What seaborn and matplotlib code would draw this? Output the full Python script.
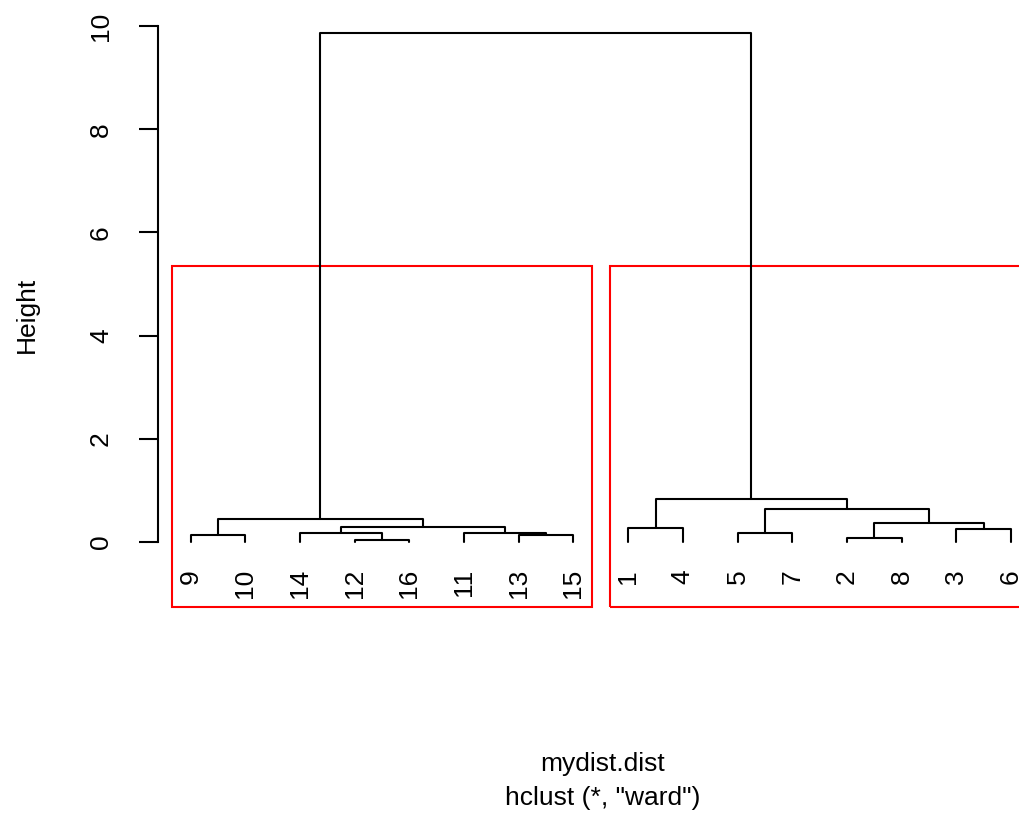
import numpy as np
import pandas as pd
import matplotlib
matplotlib.use("Agg")
import matplotlib.pyplot as plt
from matplotlib.patches import Rectangle
import seaborn as sns

# ---- data (R hclust style) ----
leaf_order = [9, 10, 14, 12, 16, 11, 13, 15, 1, 4, 5, 7, 2, 8, 3, 6]
merge_left = [-12, -2, -9, -13, -14, -11, -5, -3, -1, 5, 2, 3, 7, 9, 12]
merge_right = [-16, -8, -10, -15, 1, 4, -7, -6, -4, 6, 8, 10, 11, 13, 14]
merge_height = [0.043, 0.074, 0.127, 0.13, 0.16, 0.165, 0.17, 0.238, 0.27,
                0.277, 0.355, 0.44, 0.63, 0.83, 9.864]
y_ticks = [0, 2, 4, 6, 8, 10]
k_clusters = 2
xlab = "mydist.dist"
sub = 'hclust (*, "ward")'
ylab = "Height"

sns.set_style("white")
plt.rcParams['font.family'] = ['Liberation Sans', 'DejaVu Sans']
plt.rcParams['text.color'] = 'black'
plt.rcParams['axes.labelcolor'] = 'black'
plt.rcParams['ytick.color'] = 'black'
plt.rcParams['xtick.color'] = 'black'
FS = 19

# leaf positions
leaf_pos = {lab: i + 1 for i, lab in enumerate(leaf_order)}
node_x, node_h = {}, {}

def get(idx):
    if idx < 0:
        return leaf_pos[-idx], 0.0
    return node_x[idx], node_h[idx]

rows = []
for i, (a, b, h) in enumerate(zip(merge_left, merge_right, merge_height), start=1):
    xa, ha = get(a)
    xb, hb = get(b)
    if xa > xb:
        xa, ha, xb, hb = xb, hb, xa, ha
    for (x, y) in [(xa, ha), (xa, h), (xb, h), (xb, hb)]:
        rows.append({"seg": i, "x": x, "y": y})
    node_x[i] = (xa + xb) / 2
    node_h[i] = h
df = pd.DataFrame(rows)

fig = plt.figure(figsize=(10.19, 8.15), dpi=100)
ax = fig.add_axes([0.1548, 0.2558, 0.8696, 0.7315])
sns.lineplot(data=df, x="x", y="y", units="seg", estimator=None, sort=False,
             color="black", linewidth=1.5, ax=ax, legend=False)

ax.set_xlim(0.4, 16.6)
ax.set_ylim(-1.257, 10.31)

# leaf labels
for lab in leaf_order:
    ax.text(leaf_pos[lab], -0.53, str(lab), rotation=90, ha="center", va="top",
            fontsize=FS, color="black", clip_on=False)

# rect.hclust for k clusters
sorted_h = sorted(merge_height, reverse=True)
cut = np.mean(sorted_h[k_clusters - 2:k_clusters])
top = len(merge_height)

def leaves_of(idx):
    if idx < 0:
        return [-idx]
    return leaves_of(merge_left[idx - 1]) + leaves_of(merge_right[idx - 1])

groups = [leaves_of(merge_left[top - 1]), leaves_of(merge_right[top - 1])]
ybot = ax.get_ylim()[0]
for g in groups:
    xs = [leaf_pos[l] for l in g]
    x0 = min(xs) - 1 + 0.66
    x1 = max(xs) + 0.33
    ax.add_patch(Rectangle((x0, ybot), x1 - x0, cut - ybot, fill=False,
                           edgecolor="red", linewidth=1.5, clip_on=False))

# axes styling
for s in ["top", "right", "bottom"]:
    ax.spines[s].set_visible(False)
ax.spines["left"].set_bounds(0, 10)
ax.spines["left"].set_linewidth(1.5)
ax.spines["left"].set_color("black")
ax.set_xticks([])
ax.set_yticks(y_ticks)
ax.set_yticklabels([str(t) for t in y_ticks], rotation=90, va="center")
ax.tick_params(axis="y", left=True, length=13.7, width=1.5, pad=18.5,
               labelsize=FS, color="black", labelcolor="black")
ax.set_xlabel("")
ax.set_ylabel("")

fig.text(27 / 1019, 1 - 315 / 815, ylab, rotation=90, ha="center", va="center",
         fontsize=FS, color="black")
fig.text(603 / 1019, 1 - 771 / 815, xlab, ha="center", va="baseline",
         fontsize=FS, color="black")
fig.text(603 / 1019, 1 - 805 / 815, sub, ha="center", va="baseline",
         fontsize=FS, color="black")

fig.savefig("out.png", dpi=100)
